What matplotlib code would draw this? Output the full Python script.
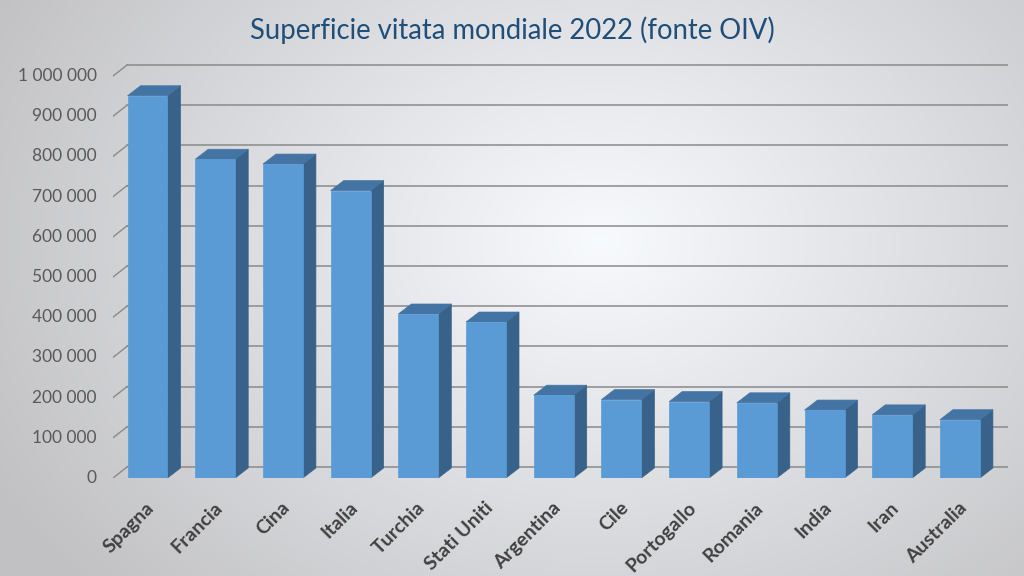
import numpy as np
import matplotlib
matplotlib.use("Agg")
import matplotlib.pyplot as plt
from matplotlib.patches import Polygon, Rectangle

# dati (ettari)
paesi = ["Spagna", "Francia", "Cina", "Italia", "Turchia", "Stati Uniti",
         "Argentina", "Cile", "Portogallo", "Romania", "India", "Iran", "Australia"]
superficie = [951000, 793000, 781000, 715000, 408000, 388000,
              206000, 195000, 190000, 187000, 169000, 157000, 145000]
tick_vals = [0, 100000, 200000, 300000, 400000, 500000,
             600000, 700000, 800000, 900000, 1000000]
tick_labels = ["0", "100 000", "200 000", "300 000", "400 000", "500 000",
               "600 000", "700 000", "800 000", "900 000", "1 000 000"]

plt.rcParams['font.family'] = ['Lato', 'DejaVu Sans']

fig = plt.figure(figsize=(10.24, 5.76), dpi=100)

# sfondo a gradiente radiale
bg = fig.add_axes([0, 0, 1, 1])
yy, xx = np.mgrid[0:576, 0:1024]
r = np.sqrt(((xx - 600) / 680.0) ** 2 + ((yy - 240) / 520.0) ** 2)
r = np.clip(r, 0, 1)
c_in = np.array([0.97, 0.98, 0.995])
c_out = np.array([0.76, 0.76, 0.77])
img = c_in[None, None, :] * (1 - r[..., None]) + c_out[None, None, :] * r[..., None]
bg.imshow(img, aspect="auto", extent=[0, 1, 0, 1])
bg.axis("off")

ax = fig.add_axes([113 / 1024, (576 - 478) / 576, (1008 - 113) / 1024, 414 / 576])
ax.set_facecolor("none")
x0, x1 = -0.51, 12.71
ymax = 1.03e6
ax.set_xlim(x0, x1)
ax.set_ylim(0, ymax)
for s in ax.spines.values():
    s.set_visible(False)
ax.set_xticks([])
ax.set_yticks([])

# profondita' della parete di fondo
wdx, wdy = 0.207, 27400
for v, lab in zip(tick_vals, tick_labels):
    ax.plot([x0 + wdx, x1], [v + wdy, v + wdy], color="#8a8a8a", lw=1.1, zorder=1)
    ax.plot([x0, x0 + wdx], [v, v + wdy], color="#8a8a8a", lw=1.0, zorder=1)
    ax.text(x0 - 0.24, v, lab, ha="right", va="center", fontsize=12.5,
            color="#595959")

# barre pseudo-3D
w = 0.59
bdx, bdy = 0.192, 24900
for i, v in enumerate(superficie):
    l, rr = i - w / 2, i + w / 2
    ax.add_patch(Polygon([(rr, 0), (rr + bdx, bdy), (rr + bdx, v + bdy), (rr, v)],
                         closed=True, facecolor="#386289", edgecolor="#386289",
                         lw=0.5, zorder=3))
    ax.add_patch(Polygon([(l, v), (rr, v), (rr + bdx, v + bdy), (l + bdx, v + bdy)],
                         closed=True, facecolor="#4474a3", edgecolor="#4474a3",
                         lw=0.5, zorder=3))
    ax.add_patch(Rectangle((l, 0), w, v, facecolor="#5b9bd5", edgecolor="#5b9bd5",
                           lw=0.5, zorder=4))
    ax.text(i - 0.03, -52000, paesi[i], rotation=45, rotation_mode="anchor",
            ha="right", va="top", fontsize=14, fontweight="bold",
            color="#404040", clip_on=False)

fig.text(0.5, 0.947, "Superficie vitata mondiale 2022 (fonte OIV)", ha="center",
         va="center", fontsize=19.8, color="#1f4e79")

fig.savefig("out.png", dpi=100)
